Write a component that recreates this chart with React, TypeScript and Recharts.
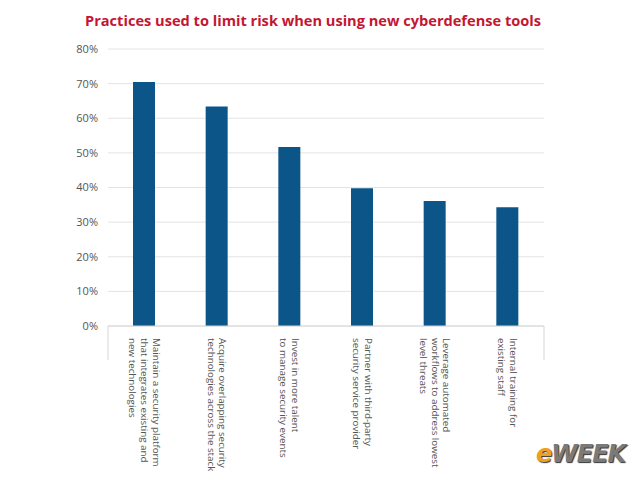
import { BarChart, Bar, XAxis, YAxis, CartesianGrid } from 'recharts';

const PRACTICES = [
  'Maintain a security platform|that integrates existing and|new technologies',
  'Acquire overlapping security|technologies across the stack',
  'Invest in more talent|to manage security events',
  'Partner with third-party|security service provider',
  'Leverage automated|workflows to address lowest|level threats',
  'Internal training for|existing staff',
];
const SHARE = [70.5, 63.4, 51.7, 39.8, 36.1, 34.3];
const Y_TICKS = [0, 10, 20, 30, 40, 50, 60, 70, 80];

const data = PRACTICES.map((name, i) => ({ name, value: SHARE[i] }));

const FONT = '"Open Sans", "Noto Sans", sans-serif';
const LINE_H = 11.8;

function PracticeTick(props: any) {
  const { x, y, payload, index } = props;
  const lines: string[] = String(payload.value).split('|');
  const half = payload.offset || 0;
  const top = y + 4;
  return (
    <g>
      {index === 0 && <line x1={x - half} y1={y - 8} x2={x - half} y2={y + 26} stroke="#d6d6d6" />}
      {index === PRACTICES.length - 1 && (
        <line x1={x + half} y1={y - 8} x2={x + half} y2={y + 26} stroke="#d6d6d6" />
      )}
      <g transform={`rotate(90, ${x}, ${top})`}>
        {lines.map((ln, i) => (
          <text
            key={i}
            x={x}
            y={top + (i - (lines.length - 1) / 2) * LINE_H}
            textAnchor="start"
            dominantBaseline="central"
            fontSize={9.8}
            fontFamily={FONT}
            fill="#555"
          >
            {ln}
          </text>
        ))}
      </g>
    </g>
  );
}

export default function App() {
  return (
    <div style={{ position: 'absolute', left: 0, top: 0, width: 640, height: 480, background: '#fff' }}>
      <div
        style={{
          position: 'absolute',
          left: 85,
          top: 10,
          fontFamily: FONT,
          fontWeight: 700,
          fontSize: 14.6,
          color: '#c41632',
          whiteSpace: 'nowrap',
        }}
      >
        Practices used to limit risk when using new cyberdefense tools
      </div>
      <BarChart width={640} height={480} data={data} margin={{ top: 49, right: 96, left: 0, bottom: 0 }}>
        <CartesianGrid vertical={false} stroke="#e4e4e4" />
        <XAxis
          dataKey="name"
          interval={0}
          height={154}
          tickLine={false}
          axisLine={{ stroke: '#d6d6d6' }}
          tick={<PracticeTick />}
        />
        <YAxis
          width={108}
          domain={[0, 80]}
          ticks={Y_TICKS}
          tickFormatter={(v) => `${v}%`}
          axisLine={false}
          tickLine={false}
          tickMargin={4}
          tick={{ fontSize: 11, fill: '#555', fontFamily: FONT }}
        />
        <Bar dataKey="value" fill="#0b5588" barSize={22} isAnimationActive={false} />
      </BarChart>
      <div
        style={{
          position: 'absolute',
          left: 536,
          top: 440,
          fontFamily: '"DejaVu Sans", sans-serif',
          fontWeight: 900,
          fontStyle: 'italic',
          fontSize: 24,
          letterSpacing: -1,
          color: '#7a7a7a',
          textShadow: '1px 1px 1px #333',
        }}
      >
        <span style={{ color: '#f0a020' }}>e</span>WEEK
      </div>
    </div>
  );
}
